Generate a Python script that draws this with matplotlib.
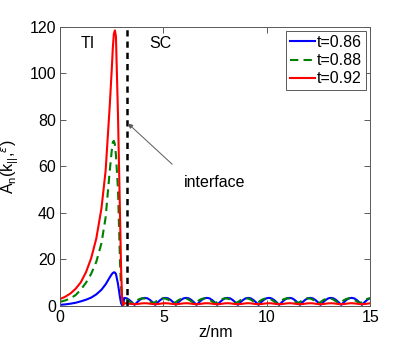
import numpy as np
import matplotlib
matplotlib.use('Agg')
import matplotlib.pyplot as plt

# TI side (z < interface)
z_ti = [0, 0.25, 0.5, 0.75, 1.0, 1.25, 1.5, 1.75, 2.0, 2.2, 2.4, 2.5, 2.55,
        2.6, 2.65, 2.7, 2.8, 2.9, 2.95, 3.0, 3.05]
red_ti = [3.0, 4.0, 5.4, 7.4, 10.2, 14.5, 20.5, 29, 42, 58, 86, 102, 111,
          117, 118.5, 116, 82, 38, 16, 3, 0.5]
green_ti = [1.8, 2.4, 3.3, 4.7, 7.0, 10.0, 13.8, 19, 27, 38, 58, 67, 70.5,
            71, 69.5, 65, 50, 18, 8, 2, 0.5]
blue_ti = [0.5, 0.7, 1.0, 1.4, 2.0, 2.7, 3.6, 5.0, 7.0, 9.3, 12.3, 13.7, 14.2,
           14.5, 14.4, 13.8, 9.5, 3.5, 1.2, 0.3, 0.2]

# SC side, sampled every 0.125 nm from 3.1 nm
z_sc = np.arange(3.1, 15.11, 0.125)
blue_sc = [3.5, 3.3, 2.6, 1.6, 0.5, 1.6, 2.6, 3.3,
           3.5, 3.3, 2.6, 1.6, 0.5, 1.6, 2.6, 3.3,
           3.5, 3.3, 2.6, 1.6, 0.5, 1.6, 2.6, 3.3,
           3.5, 3.3, 2.6, 1.6, 0.5, 1.6, 2.6, 3.3,
           3.5, 3.3, 2.6, 1.6, 0.5, 1.6, 2.6, 3.3,
           3.5, 3.3, 2.6, 1.6, 0.5, 1.6, 2.6, 3.3,
           3.5, 3.3, 2.6, 1.6, 0.5, 1.6, 2.6, 3.3,
           3.5, 3.3, 2.6, 1.6, 0.5, 1.6, 2.6, 3.3,
           3.5, 3.3, 2.6, 1.6, 0.5, 1.6, 2.6, 3.3,
           3.5, 3.3, 2.6, 1.6, 0.5, 1.6, 2.6, 3.3,
           3.5, 3.3, 2.6, 1.6, 0.5, 1.6, 2.6, 3.3,
           3.5, 3.3, 2.6, 1.6, 0.5, 1.6, 2.6, 3.3,
           3.5]
green_sc = [3.2, 2.75, 2.0, 1.2, 1.7, 2.5, 3.05, 3.3,
            3.2, 2.75, 2.0, 1.2, 1.7, 2.5, 3.05, 3.3,
            3.2, 2.75, 2.0, 1.2, 1.7, 2.5, 3.05, 3.3,
            3.2, 2.75, 2.0, 1.2, 1.7, 2.5, 3.05, 3.3,
            3.2, 2.75, 2.0, 1.2, 1.7, 2.5, 3.05, 3.3,
            3.2, 2.75, 2.0, 1.2, 1.7, 2.5, 3.05, 3.3,
            3.2, 2.75, 2.0, 1.2, 1.7, 2.5, 3.05, 3.3,
            3.2, 2.75, 2.0, 1.2, 1.7, 2.5, 3.05, 3.3,
            3.2, 2.75, 2.0, 1.2, 1.7, 2.5, 3.05, 3.3,
            3.2, 2.75, 2.0, 1.2, 1.7, 2.5, 3.05, 3.3,
            3.2, 2.75, 2.0, 1.2, 1.7, 2.5, 3.05, 3.3,
            3.2, 2.75, 2.0, 1.2, 1.7, 2.5, 3.05, 3.3,
            3.2]
red_sc = [1.2, 1.15, 1.0, 0.85, 0.8, 0.85, 1.0, 1.15,
          1.2, 1.15, 1.0, 0.85, 0.8, 0.85, 1.0, 1.15,
          1.2, 1.15, 1.0, 0.85, 0.8, 0.85, 1.0, 1.15,
          1.2, 1.15, 1.0, 0.85, 0.8, 0.85, 1.0, 1.15,
          1.2, 1.15, 1.0, 0.85, 0.8, 0.85, 1.0, 1.15,
          1.2, 1.15, 1.0, 0.85, 0.8, 0.85, 1.0, 1.15,
          1.2, 1.15, 1.0, 0.85, 0.8, 0.85, 1.0, 1.15,
          1.2, 1.15, 1.0, 0.85, 0.8, 0.85, 1.0, 1.15,
          1.2, 1.15, 1.0, 0.85, 0.8, 0.85, 1.0, 1.15,
          1.2, 1.15, 1.0, 0.85, 0.8, 0.85, 1.0, 1.15,
          1.2, 1.15, 1.0, 0.85, 0.8, 0.85, 1.0, 1.15,
          1.2, 1.15, 1.0, 0.85, 0.8, 0.85, 1.0, 1.15,
          1.2]

labels = ['t=0.86', 't=0.88', 't=0.92']
z_interface = 3.22

z = np.concatenate([z_ti, z_sc])
blue = np.concatenate([blue_ti, blue_sc])
green = np.concatenate([green_ti, green_sc])
red = np.concatenate([red_ti, red_sc])

plt.rcParams['font.family'] = ['Liberation Sans', 'DejaVu Sans']
fig = plt.figure(figsize=(4.09, 3.45), dpi=100)
ax = fig.add_axes([0.147, 0.113, 0.758, 0.809])

ax.plot(z, blue, color='#0000ff', lw=1.5, label=labels[0])
ax.plot(z, green, color='#008000', lw=1.5, ls='--', dashes=(4, 2.5), label=labels[1])
ax.plot(z, red, color='#ff0000', lw=1.5, label=labels[2])
ax.axvline(z_interface, color='k', lw=1.8, ls='--', dashes=(2.5, 2))

ax.text(1.35, 113, 'TI', fontsize=11.5, ha='center', va='center')
ax.text(4.85, 113, 'SC', fontsize=11.5, ha='center', va='center')
ax.annotate('interface', xy=(3.28, 78.5), xytext=(6.0, 53), fontsize=11.5,
            ha='left', va='center',
            arrowprops=dict(arrowstyle='-|>', color='0.35', lw=0.7,
                            mutation_scale=7, shrinkA=9, shrinkB=0,
                            relpos=(0.0, 1.0)))

ax.set_xlim(0, 15)
ax.set_ylim(0, 120)
ax.set_xticks([0, 5, 10, 15])
ax.set_yticks([0, 20, 40, 60, 80, 100, 120])
ax.tick_params(direction='in', top=True, right=True, labelsize=11.5,
               length=4, width=0.6, colors='0.25', labelcolor='k', pad=3)
for s in ax.spines.values():
    s.set_color('0.35')
    s.set_linewidth(0.7)
ax.set_xlabel('z/nm', fontsize=11.5, labelpad=0)
ax.set_ylabel(r'A$_\mathregular{n}$(k$_\mathregular{||}$,$^\epsilon$)',
              fontsize=11.5, labelpad=6)

leg = ax.legend(loc='upper right', fontsize=11.5, handlelength=1.6,
                handletextpad=0.1, borderpad=0.25, labelspacing=0.2,
                borderaxespad=0.25, fancybox=False, framealpha=1,
                edgecolor='0.35')
leg.get_frame().set_linewidth(0.7)

fig.savefig('out.png', dpi=100)
